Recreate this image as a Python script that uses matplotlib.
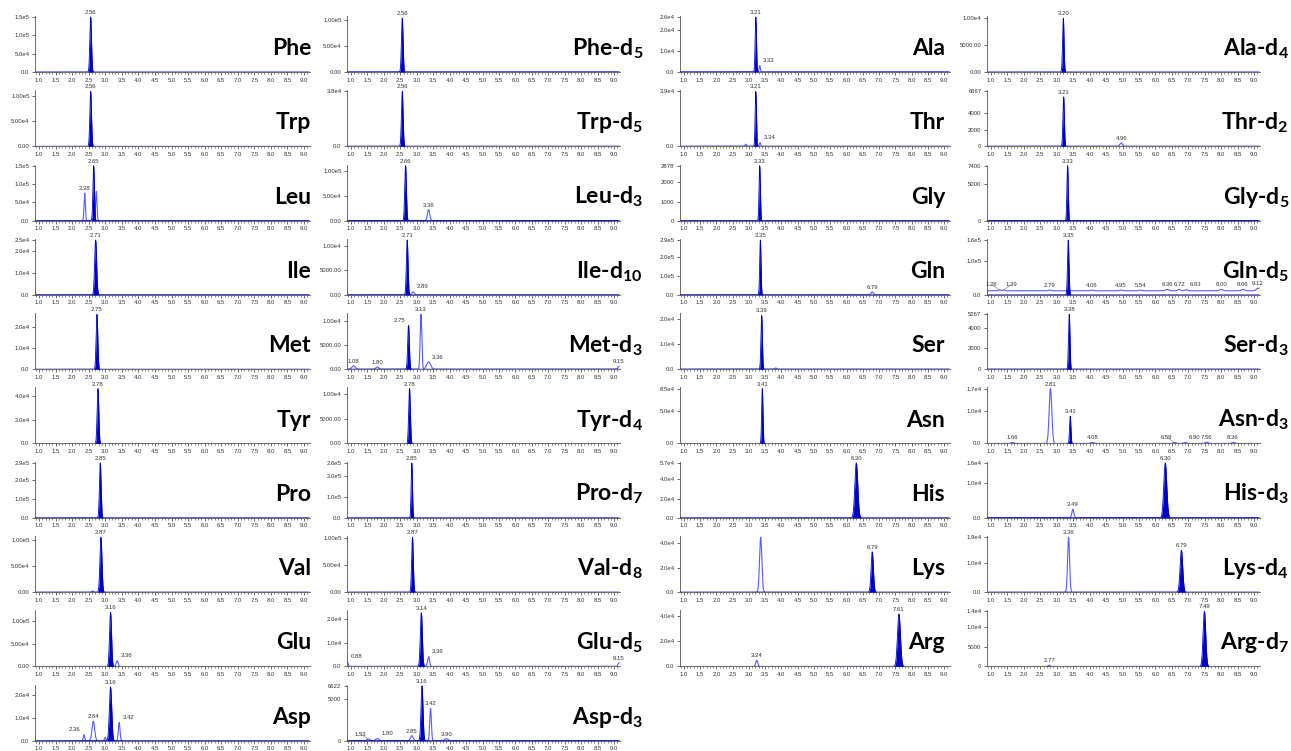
import matplotlib
matplotlib.use('Agg')
import matplotlib.pyplot as plt
import numpy as np

plt.rcParams['font.family'] = ['Liberation Sans', 'DejaVu Sans']
plt.rcParams['mathtext.fontset'] = 'custom'
plt.rcParams['mathtext.rm'] = 'Lato:bold'
plt.rcParams['mathtext.it'] = 'Lato:bold'
plt.rcParams['mathtext.bf'] = 'Lato:bold'

# panel names, column by column (10, 10, 9, 9)
names = ['Phe', 'Trp', 'Leu', 'Ile', 'Met', 'Tyr', 'Pro', 'Val', 'Glu', 'Asp',
         'Phe-d$_5$', 'Trp-d$_5$', 'Leu-d$_3$', 'Ile-d$_{10}$', 'Met-d$_3$',
         'Tyr-d$_4$', 'Pro-d$_7$', 'Val-d$_8$', 'Glu-d$_5$', 'Asp-d$_3$',
         'Ala', 'Thr', 'Gly', 'Gln', 'Ser', 'Asn', 'His', 'Lys', 'Arg',
         'Ala-d$_4$', 'Thr-d$_2$', 'Gly-d$_5$', 'Gln-d$_5$', 'Ser-d$_3$',
         'Asn-d$_3$', 'His-d$_3$', 'Lys-d$_4$', 'Arg-d$_7$']
col_sizes = [10, 10, 9, 9]

# y axis top and tick labels
y_top = [1.5e5, 1.1e5, 1.5e5, 2.5e4, 2.6e4, 4.6e4, 2.9e5, 1.05e5, 1.2e5, 2.4e4,
         1.05e5, 3.8e4, 1.1e5, 1.12e4, 1.15e4, 1.1e4, 2.6e5, 1.02e5, 2.3e4, 6622,
         2.6e4, 3.9e4, 2878, 2.9e5, 2.2e4, 8.5e4, 5.7e4, 4.5e4, 4.4e4,
         1.02e4, 6667, 7400, 1.6e5, 5267, 1.7e4, 1.6e4, 1.9e4, 1.4e4]
y_ticks = [
    ['0.0', '5.0e4', '1.0e5', '1.5e5'], ['0.00', '5.00e4', '1.00e5'],
    ['0.0', '5.0e4', '1.0e5', '1.5e5'], ['0.0', '1.0e4', '2.0e4', '2.5e4'],
    ['0.0', '1.0e4', '2.0e4'], ['0.0', '2.0e4', '4.0e4'],
    ['0.0', '1.0e5', '2.0e5', '2.9e5'], ['0.00', '5.00e4', '1.00e5'],
    ['0.00', '5.00e4', '1.00e5'], ['0.0', '1.0e4', '2.0e4'],
    ['0.00', '5.00e4', '1.00e5'], ['0.0', '3.8e4'],
    ['0.00', '5.00e4', '1.00e5'], ['0.00', '5000.00', '1.00e4'],
    ['0.00', '5000.00', '1.00e4'], ['0.00', '5000.00', '1.00e4'],
    ['0.0', '1.0e5', '2.0e5', '2.6e5'], ['0.00', '5.00e4', '1.00e5'],
    ['0.0', '1.0e4', '2.0e4'], ['0', '5000', '6622'],
    ['0.0', '1.0e4', '2.0e4', '2.6e4'], ['0.0', '3.9e4'],
    ['0', '1000', '2000', '2878'], ['0.0', '1.0e5', '2.0e5', '2.9e5'],
    ['0.0', '1.0e4', '2.0e4'], ['0.0', '5.0e4', '8.5e4'],
    ['0.0', '2.0e4', '4.0e4', '5.7e4'], ['0.0', '2.0e4', '4.0e4'],
    ['0.0', '2.0e4', '4.0e4'],
    ['0.00', '5000.00', '1.00e4'], ['0', '2000', '4000', '6667'],
    ['0', '5000', '7400'], ['0.0', '1.0e5', '1.6e5'],
    ['0', '2000', '4000', '5267'], ['0.0', '1.0e4', '1.7e4'],
    ['0.0', '1.0e4', '1.6e4'], ['0.0', '1.0e4', '1.9e4'],
    ['0', '5000', '1.0e4', '1.4e4']]

# peaks: (retention time, height, width, 'f' filled / 'o' outline, label)
peaks = [
    [(2.56, 1.5e5, 0.025, 'f', '2.56')],
    [(2.56, 1.1e5, 0.025, 'f', '2.56')],
    [(2.38, 7.5e4, 0.02, 'o', '2.38'), (2.65, 1.5e5, 0.022, 'f', '2.65'), (2.73, 8e4, 0.02, 'o', '')],
    [(2.71, 2.5e4, 0.03, 'f', '2.71')],
    [(2.75, 2.6e4, 0.025, 'f', '2.75')],
    [(2.78, 4.6e4, 0.025, 'f', '2.78')],
    [(2.85, 2.9e5, 0.025, 'f', '2.85')],
    [(2.62, 2e3, 0.02, 'o', ''), (2.87, 1.05e5, 0.03, 'f', '2.87')],
    [(3.16, 1.18e5, 0.03, 'f', '3.16'), (3.36, 1.2e4, 0.03, 'o', '3.36')],
    [(2.36, 2.5e3, 0.02, 'o', '2.36'), (2.64, 8.5e3, 0.04, 'o', '2.64'), (3.0, 1.5e3, 0.02, 'o', ''),
     (3.16, 2.35e4, 0.035, 'f', '3.16'), (3.42, 8e3, 0.025, 'o', '3.42')],
    [(2.56, 1.03e5, 0.025, 'f', '2.56')],
    [(2.56, 3.8e4, 0.025, 'f', '2.56')],
    [(2.66, 1.1e5, 0.025, 'f', '2.66'), (3.36, 2.2e4, 0.035, 'o', '3.36')],
    [(2.71, 1.12e4, 0.025, 'f', '2.71'), (2.89, 600, 0.04, 'o', '2.89')],
    [(1.08, 700, 0.05, 'o', '1.08'), (1.80, 500, 0.04, 'o', '1.80'), (2.75, 9.2e3, 0.025, 'f', '2.75'),
     (3.13, 1.15e4, 0.025, 'o', '3.13'), (3.36, 1.5e3, 0.06, 'o', '3.36'), (9.15, 600, 0.03, 'o', '9.15')],
    [(2.78, 1.1e4, 0.025, 'f', '2.78')],
    [(2.85, 2.6e5, 0.02, 'f', '2.85')],
    [(2.87, 1.02e5, 0.025, 'f', '2.87')],
    [(0.88, 2e3, 0.03, 'o', '0.88'), (3.14, 2.25e4, 0.03, 'f', '3.14'), (3.36, 4e3, 0.03, 'o', '3.36'),
     (9.15, 1.5e3, 0.03, 'o', '9.15')],
    [(1.53, 200, 0.05, 'o', '1.53'), (1.80, 250, 0.05, 'o', '1.80'), (2.85, 600, 0.04, 'o', '2.85'),
     (3.16, 6622, 0.03, 'f', '3.16'), (3.42, 3900, 0.025, 'o', '3.42'), (3.90, 250, 0.05, 'o', '3.90')],
    [(3.21, 2.6e4, 0.02, 'f', '3.21'), (3.33, 3000, 0.02, 'o', '3.33')],
    [(2.9, 1500, 0.02, 'o', ''), (3.21, 3.9e4, 0.02, 'f', '3.21'), (3.34, 2500, 0.02, 'o', '3.34')],
    [(3.33, 2878, 0.02, 'f', '3.33')],
    [(3.35, 2.9e5, 0.02, 'f', '3.35'), (6.79, 1.6e4, 0.035, 'o', '6.79')],
    [(3.39, 2.15e4, 0.022, 'f', '3.39'), (3.82, 500, 0.03, 'o', '')],
    [(3.41, 8.5e4, 0.02, 'f', '3.41')],
    [(6.30, 5.7e4, 0.045, 'f', '6.30')],
    [(3.36, 4.5e4, 0.035, 'o', ''), (6.79, 3.3e4, 0.035, 'f', '6.79')],
    [(3.24, 5000, 0.03, 'o', '3.24'), (7.61, 4.2e4, 0.045, 'f', '7.61')],
    [(3.20, 1.0e4, 0.022, 'f', '3.20')],
    [(3.21, 6000, 0.022, 'f', '3.21'), (4.96, 400, 0.04, 'o', '4.96')],
    [(3.33, 7400, 0.02, 'f', '3.33')],
    [(1.26, 3000, 0.03, 'o', '1.26'), (1.39, 3000, 0.03, 'o', '1.39'), (2.79, 2000, 0.04, 'o', '2.79'),
     (3.35, 1.6e5, 0.022, 'f', '3.35'), (4.06, 2000, 0.04, 'o', '4.06'), (4.95, 2000, 0.04, 'o', '4.95'),
     (5.54, 2000, 0.04, 'o', '5.54'), (6.36, 4000, 0.05, 'o', '6.36'), (6.72, 4000, 0.04, 'o', '6.72'),
     (6.93, 3000, 0.04, 'o', '6.93'), (8.00, 4000, 0.05, 'o', '8.00'), (8.66, 4000, 0.05, 'o', '8.66'),
     (9.12, 8000, 0.05, 'o', '9.12')],
    [(3.38, 5267, 0.022, 'f', '3.38')],
    [(1.66, 300, 0.05, 'o', '1.66'), (2.81, 1.7e4, 0.04, 'o', '2.81'), (3.41, 8.5e3, 0.02, 'f', '3.41'),
     (4.08, 300, 0.05, 'o', '4.08'), (6.59, 300, 0.05, 'o', '6.59'), (6.90, 300, 0.05, 'o', '6.90'),
     (7.56, 400, 0.05, 'o', '7.56'), (8.36, 300, 0.05, 'o', '8.36')],
    [(3.49, 2500, 0.03, 'o', '3.49'), (6.30, 1.6e4, 0.045, 'f', '6.30')],
    [(3.36, 1.9e4, 0.03, 'o', '3.36'), (6.79, 1.45e4, 0.04, 'f', '6.79')],
    [(2.77, 300, 0.03, 'o', '2.77'), (7.49, 1.4e4, 0.04, 'f', '7.49')],
]

# raised baseline of each trace (0 = flat) and whether the full trace is visible
base_level = [0] * 38
base_level[32] = 1.2e4
show_trace = [False, False, False, True, False, False, False, False, False, False,
              True, True, True, True, True, False, False, False, True, True,
              True, True, False, True, True, False, False, False, False,
              False, True, True, True, True, True, True, False, False]

# peak labels drawn beside the peak with a short leader (panel, label): dx in points
label_shift = {(8, '3.36'): 2.5, (9, '3.42'): 2.5, (9, '2.36'): -2.5, (13, '2.89'): 2.5,
               (14, '3.36'): 2.5, (14, '2.75'): -2.5, (18, '3.36'): 2.5, (18, '0.88'): 2.5,
               (19, '1.80'): 3, (19, '1.53'): -1.5, (20, '3.33'): 2.5, (21, '3.34'): 2.5,
               (32, '1.26'): -1.5, (32, '1.39'): 1.5, (32, '6.93'): 3,
               (34, '6.59'): -1.5, (34, '6.90'): 3}

x_ticks = np.arange(1.0, 9.01, 0.5)
x_minor = np.arange(0.9, 9.15, 0.1)

W, H = 1291, 751
fig = plt.figure(figsize=(W / 100, H / 100), dpi=100)

col_left = [35, 347, 680, 987]
col_right = [310, 620, 950, 1260]
name_right = [311, 643, 945, 1289]
ax_h = 56

fill_c = '#0000c8'
line_c = '#5a5aff'

x = np.linspace(0.9, 9.15, 4000)
i = 0
for c, n in enumerate(col_sizes):
    for r in range(n):
        base_px = 72 + r * 74.3
        ax = fig.add_axes([col_left[c] / W, 1 - base_px / H,
                           (col_right[c] - col_left[c]) / W, ax_h / H])
        top = y_top[i]
        base = base_level[i]
        outline = np.full_like(x, float(base))
        for rt, h, w, kind, lab in peaks[i]:
            g = h * np.exp(-0.5 * ((x - rt) / w) ** 2)
            if kind == 'f':
                ax.fill_between(x, 0, g, color=fill_c, lw=0, zorder=3)
                ax.plot(x, g, color=fill_c, lw=0.6, zorder=3)
            else:
                outline = outline + g
        if show_trace[i]:
            ax.plot(x, outline, color=line_c, lw=0.8, zorder=2)
        else:
            m = outline > top * 0.004
            ax.plot(np.where(m, x, np.nan), outline, color=line_c, lw=0.8, zorder=2)
        for rt, h, w, kind, lab in peaks[i]:
            if lab:
                yy = h + (base if kind == 'o' else 0)
                dx = label_shift.get((i, lab), 0)
                if dx:
                    ax.annotate(lab, (rt, yy), xytext=(dx, 1.8), textcoords='offset points',
                                ha='left' if dx > 0 else 'right', va='bottom',
                                fontsize=4.3, color='#333333', annotation_clip=False, zorder=5,
                                arrowprops=dict(arrowstyle='-', color='#777777', lw=0.4,
                                                shrinkA=0, shrinkB=0))
                else:
                    ax.annotate(lab, (rt, yy), xytext=(0, 1.5), textcoords='offset points',
                                ha='center', va='bottom', fontsize=4.3, color='#333333',
                                annotation_clip=False, zorder=5)

        ax.set_xlim(0.88, 9.18)
        ax.set_ylim(0, top * 1.02)
        tv = [float(t) for t in y_ticks[i]]
        ax.set_yticks(tv)
        ax.set_yticklabels(y_ticks[i])
        ax.set_xticks(x_ticks)
        ax.set_xticklabels(['%.1f' % t for t in x_ticks])
        ax.set_xticks(x_minor, minor=True)
        ax.tick_params(labelsize=4.3, length=2.5, width=0.5, pad=1.5, colors='#333333')
        ax.tick_params(which='minor', length=1.5, width=0.5, colors='#555555')
        for s in ['top', 'right']:
            ax.spines[s].set_visible(False)
        for s in ['left', 'bottom']:
            ax.spines[s].set_color('#555555')
            ax.spines[s].set_linewidth(0.6)
        ax.patch.set_alpha(0)

        fig.text(name_right[c] / W, 1 - (base_px - 17) / H, names[i],
                 ha='right', va='baseline', fontsize=16.5, family='Lato',
                 weight='bold', color='black')
        i += 1

fig.savefig('out.png', dpi=100)
